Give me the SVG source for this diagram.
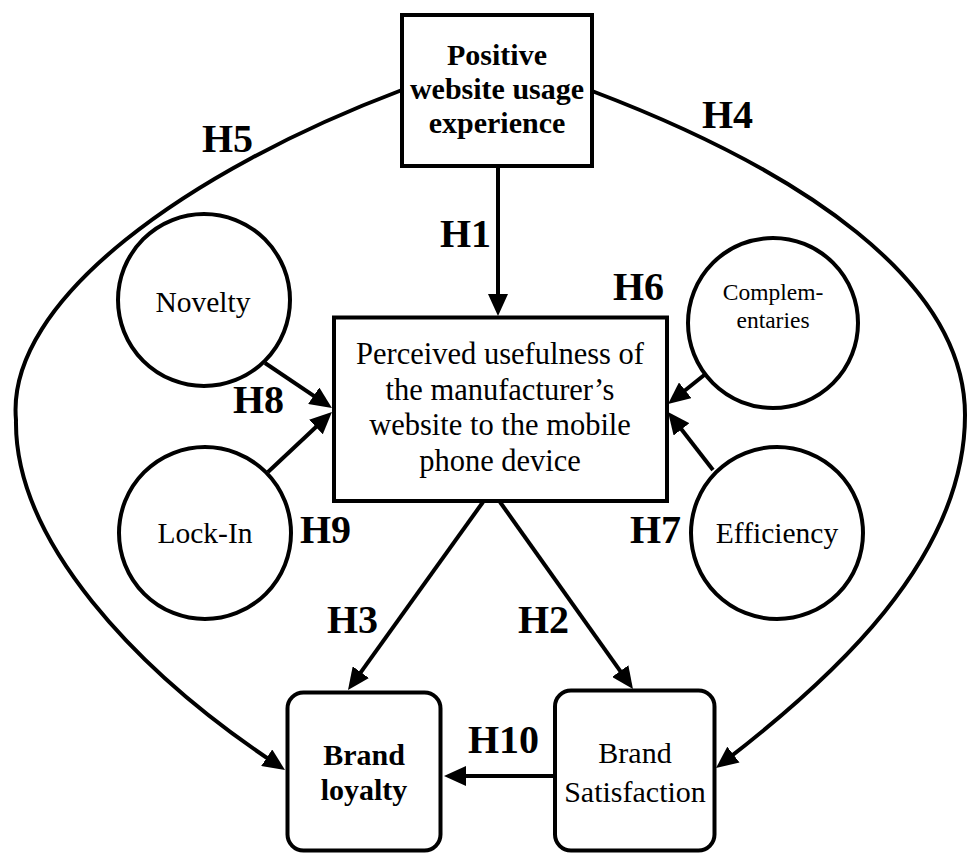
<svg xmlns="http://www.w3.org/2000/svg" width="967" height="856" viewBox="0 0 967 856">
  <style>
    .box { fill: #fff; stroke: #000; stroke-width: 4; }
    .node { fill: #fff; stroke: #000; stroke-width: 4; }
    .edge { fill: none; stroke: #000; stroke-width: 4; marker-end: url(#arrow); }
    text { font-family: "Liberation Serif", "Times New Roman", serif; fill: #000; text-anchor: middle; }
    .bold { font-weight: bold; }
    .lbl { font-weight: bold; font-size: 40px; text-anchor: start; }
  </style>
  <defs>
    <!-- filled triangular head; tip sits 12px beyond the end of each line -->
    <marker id="arrow" viewBox="0 0 22 20" markerWidth="22" markerHeight="20" markerUnits="userSpaceOnUse" refX="10" refY="10" orient="auto">
      <path d="M0,0 L22,10 L0,20 z" fill="#000"/>
    </marker>
  </defs>

  <rect width="967" height="856" fill="#fff"/>

  <!-- connectors -->
  <g id="connectors">
    <!-- H1 -->
    <line class="edge" x1="498" y1="168" x2="498" y2="304"/>
    <!-- H8: Novelty -> perceived usefulness -->
    <line class="edge" x1="265" y1="363" x2="322" y2="401.3"/>
    <!-- H9: Lock-In -> perceived usefulness -->
    <line class="edge" x1="268" y1="472" x2="323.2" y2="420.2"/>
    <!-- H6: Complementaries -> perceived usefulness -->
    <line class="edge" x1="713" y1="368" x2="677.4" y2="396.5"/>
    <!-- H7: Efficiency -> perceived usefulness -->
    <line class="edge" x1="713" y1="470" x2="675.4" y2="421.5"/>
    <!-- H3 -->
    <line class="edge" x1="483" y1="502" x2="355" y2="680.3"/>
    <!-- H2 -->
    <line class="edge" x1="500" y1="502" x2="626" y2="679.2"/>
    <!-- H10 -->
    <line class="edge" x1="554" y1="776" x2="456" y2="776"/>
    <!-- H5: outer left arc -->
    <path class="edge" d="M402,90 C190,170 5,300 16,420 C14,540 135,670 275,763.3"/>
    <!-- H4: outer right arc -->
    <path class="edge" d="M592,91 C800,170 965,280 965,415 C965,560 830,680 725.5,760.7"/>
  </g>

  <!-- hypothesis labels -->
  <g id="labels">
    <text class="lbl" x="202" y="152">H5</text>
    <text class="lbl" x="702" y="128">H4</text>
    <text class="lbl" x="440" y="247">H1</text>
    <text class="lbl" x="613" y="300">H6</text>
    <text class="lbl" x="233" y="413">H8</text>
    <text class="lbl" x="300" y="543">H9</text>
    <text class="lbl" x="630" y="543">H7</text>
    <text class="lbl" x="327" y="633">H3</text>
    <text class="lbl" x="518" y="633">H2</text>
    <text class="lbl" x="468" y="753">H10</text>
  </g>

  <g id="positive-experience">
    <rect class="box" x="402" y="15" width="190" height="151"/>
    <text class="bold" x="497" y="65" font-size="30">Positive</text>
    <text class="bold" x="497" y="99" font-size="30">website usage</text>
    <text class="bold" x="497" y="133" font-size="30">experience</text>
  </g>

  <g id="perceived-usefulness">
    <rect class="box" x="334" y="317.5" width="333" height="183.5"/>
    <text x="500" y="364" font-size="30.5">Perceived usefulness of</text>
    <text x="500" y="399.5" font-size="30.5">the manufacturer’s</text>
    <text x="500" y="435" font-size="30.5">website to the mobile</text>
    <text x="500" y="470.5" font-size="30.5">phone device</text>
  </g>

  <g id="novelty">
    <circle class="node" cx="204" cy="300" r="86"/>
    <text x="203" y="312" font-size="29.5">Novelty</text>
  </g>

  <g id="lock-in">
    <circle class="node" cx="205" cy="533" r="86"/>
    <text x="205" y="543" font-size="29.5">Lock-In</text>
  </g>

  <g id="complementaries">
    <circle class="node" cx="773" cy="323" r="85"/>
    <text x="773" y="300" font-size="23.5">Complem-</text>
    <text x="773" y="328" font-size="23.5">entaries</text>
  </g>

  <g id="efficiency">
    <circle class="node" cx="777" cy="533" r="86"/>
    <text x="777" y="543" font-size="29.5">Efficiency</text>
  </g>

  <g id="brand-loyalty">
    <rect class="box" x="287.5" y="692.5" width="153" height="158" rx="16"/>
    <text class="bold" x="364" y="765" font-size="30">Brand</text>
    <text class="bold" x="364" y="800" font-size="30">loyalty</text>
  </g>

  <g id="brand-satisfaction">
    <rect class="box" x="555" y="690.5" width="159.5" height="160" rx="16"/>
    <text x="635" y="763" font-size="30">Brand</text>
    <text x="635" y="802" font-size="30">Satisfaction</text>
  </g>
</svg>
